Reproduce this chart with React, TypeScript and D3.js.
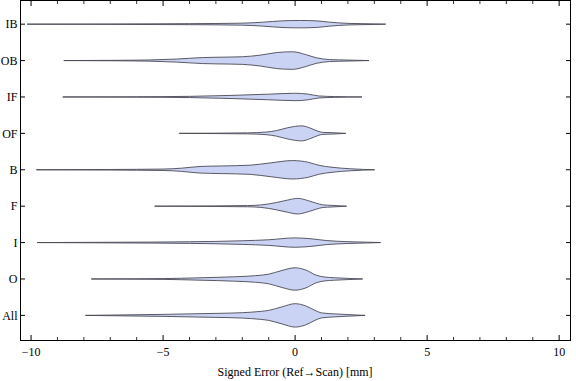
import React from "react";
import * as d3 from "d3";

const categories = ["All", "O", "I", "F", "B", "OF", "IF", "OB", "IB"];

// Each violin: [value (mm), density (arbitrary units)]
const violinAll: [number, number][] = [[-7.94,0],[-5,1],[-3,2],[-2,2.7],[-1.3,4],[-1,5],[-0.5,8.5],[0,11.7],[0.4,9.5],[0.75,5],[1,2.5],[1.5,1.5],[2,0.8],[2.65,0]];
const violinO: [number, number][] = [[-7.72,0],[-5,0.4],[-3.6,1.2],[-2.3,2.2],[-1.5,3.3],[-1,4.8],[-0.5,8.5],[0,11.2],[0.4,9],[0.8,3.8],[1.1,2],[1.5,1.2],[2,0.6],[2.56,0]];
const violinI: [number, number][] = [[-9.77,0],[-7,0.3],[-4,0.8],[-2,1.8],[-1,2.8],[0,4.7],[0.6,3.8],[1.2,2],[2,0.9],[2.7,0.4],[3.24,0]];
const violinF: [number, number][] = [[-5.32,0],[-3,0.3],[-1.8,0.6],[-1.3,1.2],[-0.7,3.7],[-0.3,6],[0.1,7.8],[0.5,5.5],[0.8,3],[1.05,1.3],[1.4,0.8],[1.95,0]];
const violinB: [number, number][] = [[-9.8,0],[-7,0.3],[-5,0.7],[-4.3,1.6],[-3.6,3.3],[-2.8,3.8],[-1.7,4.6],[-0.9,7],[-0.1,9.2],[0.5,7.5],[0.9,4.5],[1.4,2.5],[2.1,1],[3.01,0]];
const violinOF: [number, number][] = [[-4.39,0],[-3,0.2],[-1.8,0.5],[-1.1,1.3],[-0.7,2.8],[-0.3,5.5],[0.25,7.5],[0.6,5],[0.85,2.3],[1.05,1],[1.4,0.7],[1.92,0]];
const violinIF: [number, number][] = [[-8.8,0],[-6,0.2],[-4,0.6],[-2.5,1.5],[-1,2.8],[0,3.7],[0.5,2.8],[0.9,1],[1.5,0.4],[2.53,0]];
const violinOB: [number, number][] = [[-8.76,0],[-7,0.2],[-5.5,0.6],[-4.5,1.5],[-3.5,3],[-3,3.3],[-2,3.8],[-1.3,5.5],[-0.7,8],[-0.1,8.8],[0.4,6],[0.8,2.8],[1.3,1],[2,0.5],[2.8,0]];
const violinIB: [number, number][] = [[-10.15,0],[-7,0.2],[-4,0.5],[-2,1],[-1.2,2],[-0.5,3.3],[0.2,3.7],[0.8,3.3],[1.3,2],[2,0.8],[3,0.3],[3.43,0]];

const violins = [violinAll, violinO, violinI, violinF, violinB, violinOF, violinIF, violinOB, violinIB];

const xMajorTicks = [-10, -5, 0, 5, 10];
const xMinorTicks = [-9, -8, -7, -6, -4, -3, -2, -1, 1, 2, 3, 4, 6, 7, 8, 9];
const xLabel = "Signed Error (Ref\u2192Scan) [mm]";

const W = 576;
const H = 381;
const left = 20.5;
const right = 570.5;
const top = 0.5;
const bottom = 340.5;

export default function App() {
  const x = d3.scaleLinear().domain([-10.4, 10.43]).range([left, right]);
  const y = d3.scaleLinear().domain([0.31, 9.65]).range([bottom, top]);
  const maxD = 11.7;
  const w = d3.scaleLinear().domain([0, maxD]).range([0, 11.7]);

  const font = "'Liberation Serif', 'Times New Roman', serif";
  const fmt = (v: number) => (v < 0 ? "\u2212" + Math.abs(v) : String(v));

  return (
    <div style={{ position: "absolute", left: 0, top: 0 }}>
      <svg width={W} height={H} style={{ display: "block" }}>
        <rect x={0} y={0} width={W} height={H} fill="white" />
        {violins.map((pts, i) => {
          const cy = y(i + 1);
          const area = d3
            .area<[number, number]>()
            .x((d) => x(d[0]))
            .y0((d) => cy - w(d[1]))
            .y1((d) => cy + w(d[1]))
            .curve(d3.curveMonotoneX);
          return (
            <path
              key={categories[i]}
              d={area(pts) || ""}
              fill="#cbd3f4"
              stroke="#4a4a55"
              strokeWidth={0.9}
              strokeLinejoin="round"
            />
          );
        })}
        {/* frame */}
        <rect x={left} y={top} width={right - left} height={bottom - top} fill="none" stroke="#000" strokeWidth={1} />
        {/* x ticks bottom & top */}
        {xMajorTicks.map((t) => (
          <g key={"M" + t}>
            <line x1={x(t)} x2={x(t)} y1={bottom} y2={bottom - 5.5} stroke="#000" />
            <line x1={x(t)} x2={x(t)} y1={top} y2={top + 5.5} stroke="#000" />
            <text x={x(t)} y={bottom + 15} textAnchor="middle" fontFamily={font} fontSize={12}>
              {fmt(t)}
            </text>
          </g>
        ))}
        {xMinorTicks.map((t) => (
          <g key={"m" + t}>
            <line x1={x(t)} x2={x(t)} y1={bottom} y2={bottom - 3.5} stroke="#000" strokeWidth={0.8} />
            <line x1={x(t)} x2={x(t)} y1={top} y2={top + 3.5} stroke="#000" strokeWidth={0.8} />
          </g>
        ))}
        {/* y ticks left & right */}
        {categories.map((c, i) => (
          <g key={"y" + c}>
            <line x1={left} x2={left + 4.5} y1={y(i + 1)} y2={y(i + 1)} stroke="#000" />
            <line x1={right} x2={right - 4.5} y1={y(i + 1)} y2={y(i + 1)} stroke="#000" />
            <text x={left - 3} y={y(i + 1)} dy="0.35em" textAnchor="end" fontFamily={font} fontSize={12}>
              {c}
            </text>
          </g>
        ))}
        <text x={x(0)} y={376} textAnchor="middle" fontFamily={font} fontSize={12}>
          {xLabel}
        </text>
      </svg>
    </div>
  );
}
